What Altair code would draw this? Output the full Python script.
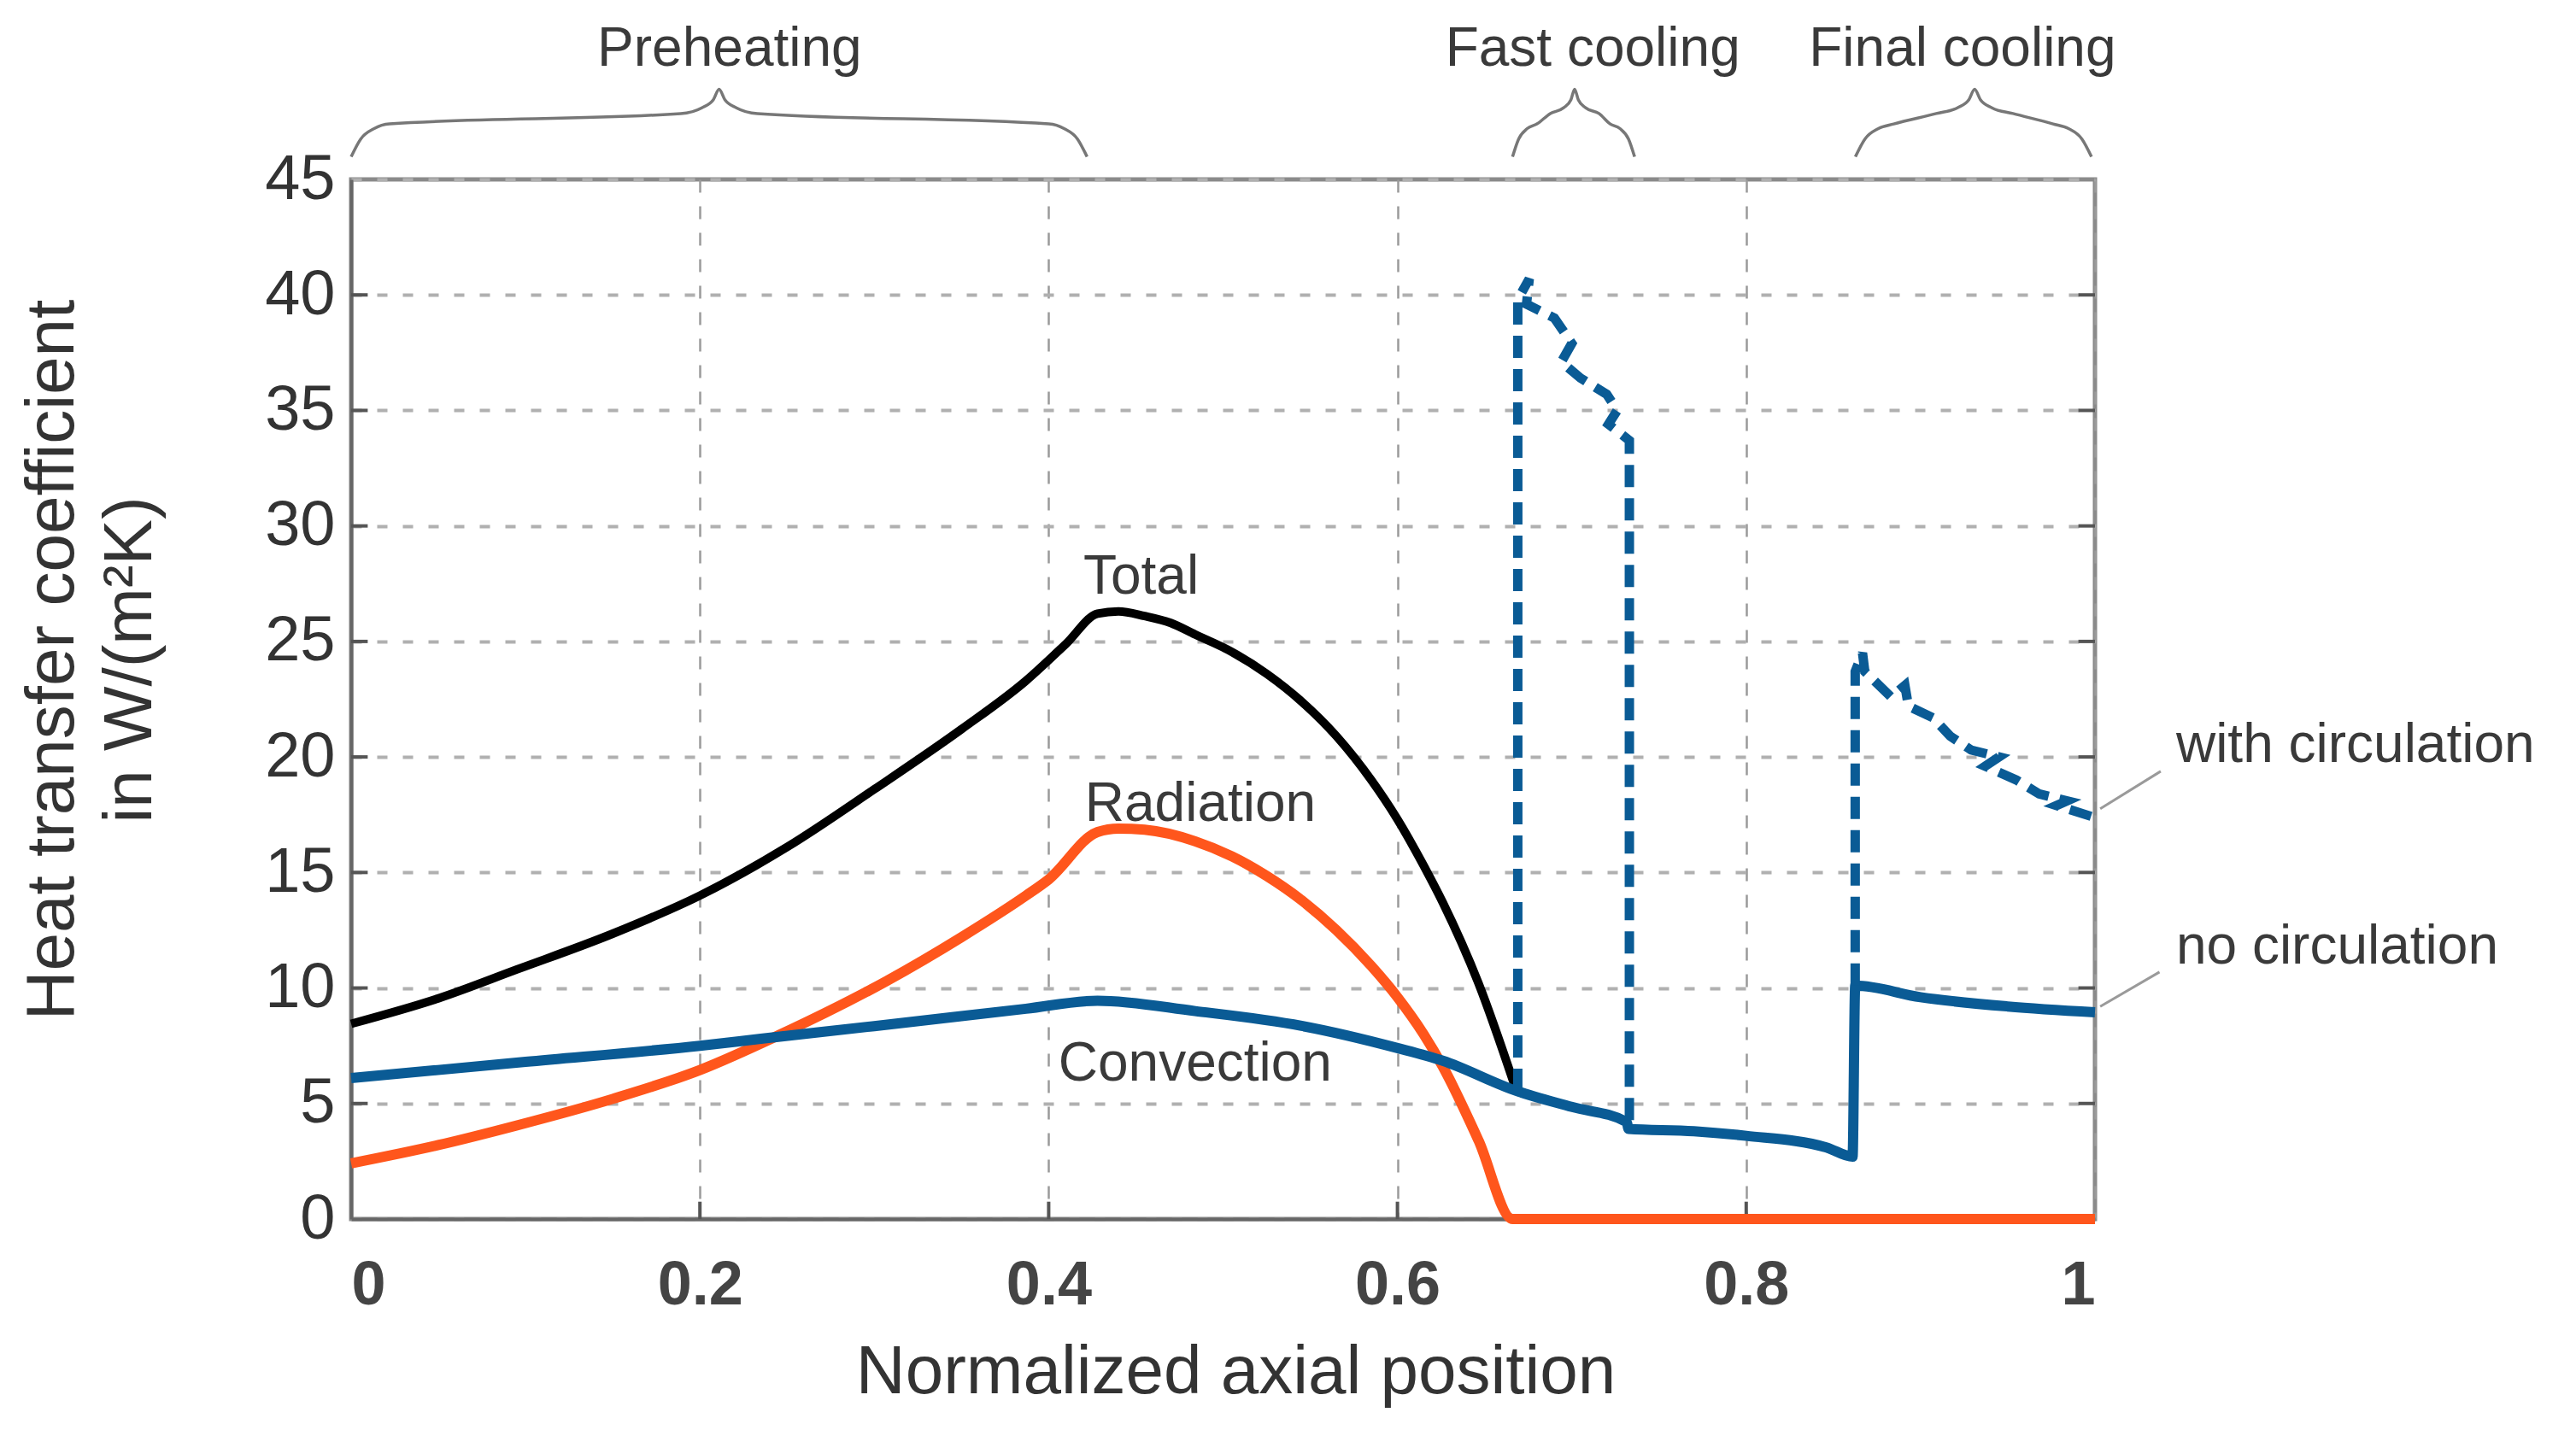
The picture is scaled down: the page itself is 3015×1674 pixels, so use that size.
import altair as alt
import pandas as pd

# ---------------- data ----------------
total_x = [0, 0.05, 0.095, 0.15, 0.2, 0.25, 0.3, 0.35, 0.387, 0.41, 0.428, 0.44, 0.455,
           0.47, 0.484, 0.505, 0.525, 0.545, 0.565, 0.585, 0.6, 0.615, 0.626, 0.6465, 0.668]
total_y = [8.45, 9.55, 10.8, 12.35, 14.0, 16.1, 18.6, 21.2, 23.3, 24.9, 26.2, 26.3, 26.1,
           25.8, 25.3, 24.55, 23.6, 22.4, 20.9, 19.0, 17.3, 15.3, 13.7, 10.2, 5.6]

rad_x = [0, 0.05, 0.095, 0.15, 0.2, 0.245, 0.307, 0.35, 0.387, 0.4, 0.428, 0.44, 0.455,
         0.484, 0.505, 0.525, 0.545, 0.565, 0.585, 0.6, 0.615, 0.626, 0.6465, 0.666, 1.0]
rad_y = [2.41, 3.2, 4.05, 5.2, 6.45, 7.95, 10.3, 12.2, 14.0, 14.7, 16.75, 16.9, 16.85,
         16.35, 15.7, 14.85, 13.8, 12.5, 10.95, 9.6, 8.0, 6.6, 3.4, 0.0, 0.0]

conv_x = [0, 0.1, 0.2, 0.235, 0.3, 0.387, 0.428, 0.484, 0.545, 0.6, 0.626, 0.668, 0.7,
          0.7315, 0.7325, 0.77, 0.8, 0.846, 0.861, 0.8625, 0.9, 0.95, 1.0]
conv_y = [6.1, 6.8, 7.5, 7.8, 8.35, 9.1, 9.45, 9.0, 8.36, 7.4, 6.85, 5.55, 4.85,
          4.2, 3.9, 3.8, 3.6, 3.1, 2.7, 10.1, 9.6, 9.2, 8.95]

# with circulation (dashed), two segments
circ1_x = [0.669, 0.669, 0.6756, 0.674, 0.690, 0.700, 0.694, 0.705, 0.720, 0.726, 0.721, 0.733, 0.733, 0.733]
circ1_y = [5.55, 39.8, 40.7, 39.6, 39.0, 37.9, 37.1, 36.4, 35.7, 35.0, 34.4, 33.7, 33.2, 3.9]
circ2_x = [0.8625, 0.8625, 0.8667, 0.868, 0.883, 0.891, 0.893, 0.907, 0.917, 0.929, 0.945,
           0.937, 0.955, 0.968, 0.984, 0.978, 0.999]
circ2_y = [10.1, 23.7, 24.5, 23.7, 22.6, 23.1, 22.2, 21.7, 20.9, 20.3, 20.0,
           19.6, 19.0, 18.4, 18.1, 17.9, 17.4]

# curve labels
lab_text = ["Total", "Radiation", "Convection"]
lab_x = [0.453, 0.487, 0.484]
lab_y = [27.07, 17.23, 6.0]

side_text = ["with circulation", "no circulation"]
side_x = [1.0465, 1.0465]
side_y = [19.8, 11.06]

# leader lines (start, end)
lead_x0 = [1.003, 1.003]
lead_y0 = [17.76, 9.2]
lead_x1 = [1.0377, 1.037]
lead_y1 = [19.38, 10.69]

# phase braces: start, middle, end along x
phase_text = ["Preheating", "Fast cooling", "Final cooling"]
phase_label_x = [0.217, 0.712, 0.924]
phase_x0 = [0.0, 0.666, 0.8626]
phase_xm = [0.211, 0.7016, 0.931]
phase_x1 = [0.422, 0.736, 0.998]
phase_curl = [0.022, 0.014, 0.022]
phase_label_y = 49.9

y_ticks = [0, 5, 10, 15, 20, 25, 30, 35, 40, 45]
x_ticks = [0, 0.2, 0.4, 0.6, 0.8, 1.0]

BLUE = "#0a5b95"
ORANGE = "#ff561c"
FONT = "Liberation Sans"
TXT = "#3a3a3a"

# ---------------- tables ----------------
def seg_df(xs, ys, name):
    return pd.DataFrame({"x": xs, "y": ys, "seg": name, "i": list(range(len(xs)))})

total_df = seg_df(total_x, total_y, "total")
rad_df = seg_df(rad_x, rad_y, "rad")
conv_df = seg_df(conv_x, conv_y, "conv")
circ_df = pd.concat([seg_df(circ1_x, circ1_y, "c1"), seg_df(circ2_x, circ2_y, "c2")])

brace_rows = []
for k in range(len(phase_text)):
    x0, xm, x1, c = phase_x0[k], phase_xm[k], phase_x1[k], phase_curl[k]
    pts = [(x0, 45.98), (x0 + 0.25 * c, 46.75), (x0 + 0.6 * c, 47.2), (x0 + c, 47.4),
           (xm - c, 47.85), (xm - 0.45 * c, 48.1), (xm - 0.15 * c, 48.45), (xm, 48.9),
           (xm + 0.15 * c, 48.45), (xm + 0.45 * c, 48.1), (xm + c, 47.85),
           (x1 - c, 47.4), (x1 - 0.6 * c, 47.2), (x1 - 0.25 * c, 46.75), (x1, 45.98)]
    for j, (px, py) in enumerate(pts):
        brace_rows.append({"x": px, "y": py, "seg": phase_text[k], "i": j})
brace_df = pd.DataFrame(brace_rows)

# short inward tick marks (Matlab style)
tick_len = 0.0095
yt_rows = []
for v in y_ticks[1:-1]:
    yt_rows.append({"x": 0.0, "x2": tick_len, "y": v})
    yt_rows.append({"x": 1.0 - tick_len, "x2": 1.0, "y": v})
ytick_df = pd.DataFrame(yt_rows)
xtick_df = pd.DataFrame({"x": x_ticks[1:-1], "y": [0.0] * 4, "y2": [0.75] * 4})

lab_df = pd.DataFrame({"x": lab_x, "y": lab_y, "t": lab_text})
side_df = pd.DataFrame({"x": side_x, "y": side_y, "t": side_text})
phase_df = pd.DataFrame({"x": phase_label_x, "y": [phase_label_y] * 3, "t": phase_text})
lead_df = pd.DataFrame({"x": lead_x0, "y": lead_y0, "x2": lead_x1, "y2": lead_y1})

# ---------------- chart ----------------
xs = alt.Scale(domain=[0, 1], nice=False, zero=False)
ys = alt.Scale(domain=[0, 45], nice=False, zero=False)

x_axis = alt.Axis(values=x_ticks, format="~g", title="Normalized axial position",
                  labelFontSize=72, labelFontWeight="bold", labelColor="#444444",
                  labelPadding=42, labelFlush=True, tickSize=0, domainColor="#666666",
                  domainWidth=4, grid=True, gridDash=[15, 16], gridColor="#9a9a9a",
                  gridWidth=2.5, titleFontSize=80, titleFontWeight="normal",
                  titleColor="#333333", titleX=1035, titleY=203,
                  titleBaseline="alphabetic", titleAlign="center")
y_axis = alt.Axis(values=y_ticks, title=["Heat transfer coefficient", "in W/(m²K)"],
                  labelFontSize=74, labelColor="#333333", labelPadding=19, tickSize=0,
                  domainColor="#666666", domainWidth=4, grid=True, gridDash=[12, 18],
                  gridColor="#b0b0b0", gridWidth=4, titleFontSize=80,
                  titleFontWeight="normal", titleColor="#333333", titleAngle=270,
                  titleAlign="center", titleBaseline="middle", titleLineHeight=91,
                  titleX=-350, titleY=562)

base_x = alt.X("x:Q", scale=xs, axis=x_axis)
base_y = alt.Y("y:Q", scale=ys, axis=y_axis)

total = alt.Chart(total_df).mark_line(color="black", strokeWidth=10,
                                      interpolate="monotone").encode(
    x=base_x, y=base_y, order="i:Q")

rad = alt.Chart(rad_df).mark_line(color=ORANGE, strokeWidth=12,
                                  interpolate="monotone").encode(
    x="x:Q", y="y:Q", order="i:Q")

conv = alt.Chart(conv_df).mark_line(color=BLUE, strokeWidth=12,
                                    interpolate="monotone").encode(
    x="x:Q", y="y:Q", order="i:Q")

circ = alt.Chart(circ_df).mark_line(color=BLUE, strokeWidth=11, strokeDash=[26, 13]).encode(
    x="x:Q", y="y:Q", detail="seg:N", order="i:Q")

braces = alt.Chart(brace_df).mark_line(color="#777777", strokeWidth=3.5,
                                       interpolate="monotone").encode(
    x="x:Q", y="y:Q", detail="seg:N", order="i:Q")

yticks = alt.Chart(ytick_df).mark_rule(color="#555555", strokeWidth=4).encode(
    x="x:Q", x2="x2:Q", y="y:Q")
xticks = alt.Chart(xtick_df).mark_rule(color="#555555", strokeWidth=4).encode(
    x="x:Q", y="y:Q", y2="y2:Q")

leads = alt.Chart(lead_df).mark_rule(color="#9a9a9a", strokeWidth=3).encode(
    x="x:Q", y="y:Q", x2="x2:Q", y2="y2:Q")

labels = alt.Chart(lab_df).mark_text(font=FONT, fontSize=64, color=TXT, align="center",
                                     baseline="alphabetic").encode(
    x="x:Q", y="y:Q", text="t:N")

side = alt.Chart(side_df).mark_text(font=FONT, fontSize=64, color=TXT, align="left",
                                    baseline="alphabetic").encode(
    x="x:Q", y="y:Q", text="t:N")

phases = alt.Chart(phase_df).mark_text(font=FONT, fontSize=64, color=TXT, align="center",
                                       baseline="alphabetic").encode(
    x="x:Q", y="y:Q", text="t:N")

chart = alt.layer(total, yticks, xticks, rad, conv, circ, braces, leads, labels, side,
                  phases).properties(
    width=2041, height=1217,
    autosize=alt.AutoSizeParams(type="none"),
    padding={"left": 403, "top": 202, "right": 540, "bottom": 225},
).configure(font=FONT).configure_view(stroke="#8a8a8a", strokeWidth=5)

chart.save("out.html", embed_options={"renderer": "svg", "actions": False})
